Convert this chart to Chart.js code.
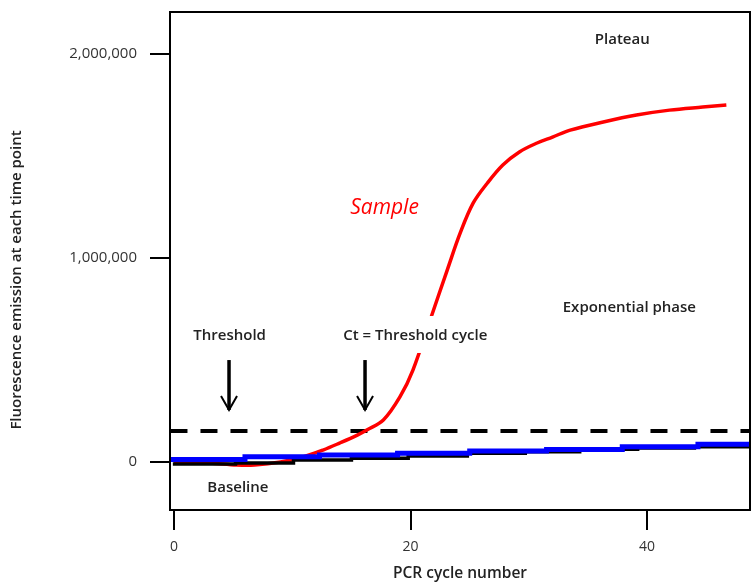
<!DOCTYPE html>
<html>
<head>
<meta charset="utf-8">
<title>qPCR amplification curve</title>
<script src="https://cdn.jsdelivr.net/npm/chart.js@4/dist/chart.umd.min.js"></script>
<style>
    html, body { margin: 0; padding: 0; background: #fff; }
    #wrap { width: 755px; height: 582px; }
</style>
</head>
<body>
<div id="wrap"><canvas id="chart"></canvas></div>
<script>
// tick values
const xTicks = [0, 20, 40];
const yTicks = [0, 1000000, 2000000];

// red sample curve
const sampleCycles = [0, 3, 5.3, 6.8, 9, 10.9, 12.6, 14.0, 15.5, 16.3, 17.7, 19.1, 20.2, 21.8, 23.1, 24.2, 25.3, 26.5, 27.8, 29.2, 30.7, 32.0, 33.5, 36.3, 39.1, 41.9, 44.7, 46.7];
const sampleValues = [0, -5000, -15000, -15000, 0, 25000, 59000, 93000, 132000, 157000, 206000, 319000, 451000, 721000, 941000, 1123000, 1270000, 1368000, 1456000, 1520000, 1564000, 1593000, 1627000, 1667000, 1701000, 1725000, 1740000, 1750000];

// black baseline (stepped)
const blackCycles = [-0.1, 5.2, 10.1, 15.0, 19.8, 24.8, 29.7, 34.3, 39.2, 44.0, 48.7];
const blackValues = [-9800, -4900, 9800, 18100, 29400, 42600, 50500, 62300, 68600, 75000, 75000];

// blue baseline (stepped)
const blueCycles = [-0.6, 6.0, 12.3, 18.9, 25.0, 31.5, 37.9, 44.3, 48.7];
const blueValues = [13000, 26000, 34000, 43000, 54000, 62000, 75000, 87000, 87000];

// threshold level
const thresholdCycles = [-0.3, 48.7];
const thresholdValues = [152000, 152000];

// annotation texts
const noteTexts = ['Plateau', 'Exponential phase', 'Threshold', 'Ct = Threshold cycle', 'Baseline'];
const notePos = [[37.9, 2069000], [38.5, 755000], [4.7, 618000], [20.4, 618000], [5.4, -127000]];
const arrowCycles = [4.65, 16.15];
const arrowTop = 500000, arrowTip = 255000;

const pts = (xs, ys) => xs.map((x, i) => ({ x: x, y: ys[i] }));

Chart.defaults.font.family = "'Open Sans', sans-serif";

const FONT_BOLD = "600 15px 'Open Sans', sans-serif";

const overlay = {
    id: 'overlay',
    afterDatasetsDraw(chart) {
        const { ctx, chartArea: a, scales: { x, y } } = chart;
        ctx.save();

        // white box behind the Ct label (cuts the red curve like the original)
        ctx.fillStyle = '#fff';
        ctx.fillRect(x.getPixelForValue(notePos[3][0]) - 78, y.getPixelForValue(notePos[3][1]) - 20, 156, 37);

        // frame around plot
        ctx.strokeStyle = '#000';
        ctx.lineWidth = 2;
        ctx.strokeRect(a.left, a.top, a.right - a.left, a.bottom - a.top);

        // notes
        ctx.fillStyle = '#222';
        ctx.font = FONT_BOLD;
        ctx.textAlign = 'center';
        ctx.textBaseline = 'middle';
        noteTexts.forEach((t, i) => {
            ctx.fillText(t, x.getPixelForValue(notePos[i][0]), y.getPixelForValue(notePos[i][1]));
        });

        // red "Sample" label
        ctx.fillStyle = '#ff0000';
        ctx.font = "italic 21px 'Open Sans', sans-serif";
        ctx.fillText('Sample', x.getPixelForValue(17.8), y.getPixelForValue(1245000));

        // arrows
        ctx.strokeStyle = '#000';
        arrowCycles.forEach(c => {
            const px = x.getPixelForValue(c);
            const top = y.getPixelForValue(arrowTop);
            const tip = y.getPixelForValue(arrowTip);
            ctx.lineWidth = 3.5;
            ctx.beginPath();
            ctx.moveTo(px, top);
            ctx.lineTo(px, tip);
            ctx.stroke();
            ctx.lineWidth = 2;
            ctx.beginPath();
            ctx.moveTo(px - 8, tip - 14);
            ctx.lineTo(px, tip);
            ctx.lineTo(px + 8, tip - 14);
            ctx.stroke();
        });

        // axis titles
        ctx.fillStyle = '#222';
        ctx.font = "600 15.5px 'Open Sans', sans-serif";
        ctx.fillText('PCR cycle number', (a.left + a.right) / 2, 574);
        ctx.translate(17, 280);
        ctx.rotate(-Math.PI / 2);
        ctx.font = "600 15px 'Open Sans', sans-serif";
        ctx.fillText('Fluorescence emission at each time point', 0, 0);
        ctx.restore();
    }
};

new Chart(document.getElementById('chart'), {
    type: 'line',
    data: {
        datasets: [
            {
                label: 'Blue',
                data: pts(blueCycles, blueValues),
                borderColor: '#0000ff',
                borderWidth: 5,
                stepped: true,
                pointRadius: 0,
                order: 0
            },
            {
                label: 'Black',
                data: pts(blackCycles, blackValues),
                borderColor: '#000',
                borderWidth: 3.5,
                stepped: true,
                pointRadius: 0,
                order: 1
            },
            {
                label: 'Sample',
                data: pts(sampleCycles, sampleValues),
                borderColor: '#ff0000',
                borderWidth: 3.5,
                tension: 0.35,
                pointRadius: 0,
                order: 2
            },
            {
                label: 'Threshold',
                data: pts(thresholdCycles, thresholdValues),
                borderColor: '#000',
                borderWidth: 4,
                borderDash: [17, 13],
                pointRadius: 0,
                order: 3
            }
        ]
    },
    options: {
        responsive: true,
        maintainAspectRatio: false,
        animation: false,
        layout: { padding: { top: 12, right: 5, left: 0, bottom: 0 } },
        plugins: {
            legend: { display: false },
            tooltip: { enabled: false }
        },
        scales: {
            x: {
                type: 'linear',
                min: -0.34,
                max: 48.7,
                afterBuildTicks: s => { s.ticks = xTicks.map(v => ({ value: v })); },
                afterFit: s => { s.height = 72; s.paddingLeft = 0; s.paddingRight = 0; },
                grid: { drawOnChartArea: false, tickLength: 20, color: '#000', lineWidth: 2 },
                border: { color: '#000', width: 2 },
                ticks: { color: '#333', font: { size: 14 }, padding: 9, maxRotation: 0 }
            },
            y: {
                type: 'linear',
                min: -235000,
                max: 2206000,
                afterBuildTicks: s => { s.ticks = yTicks.map(v => ({ value: v })); },
                afterFit: s => { s.width = 170; s.paddingTop = 0; s.paddingBottom = 0; },
                grid: { drawOnChartArea: false, tickLength: 20, color: '#000', lineWidth: 2 },
                border: { color: '#000', width: 2 },
                ticks: {
                    color: '#333',
                    font: { size: 15 },
                    padding: 13,
                    callback: v => v.toLocaleString('en-US')
                }
            }
        }
    },
    plugins: [overlay]
});
</script>
</body>
</html>
